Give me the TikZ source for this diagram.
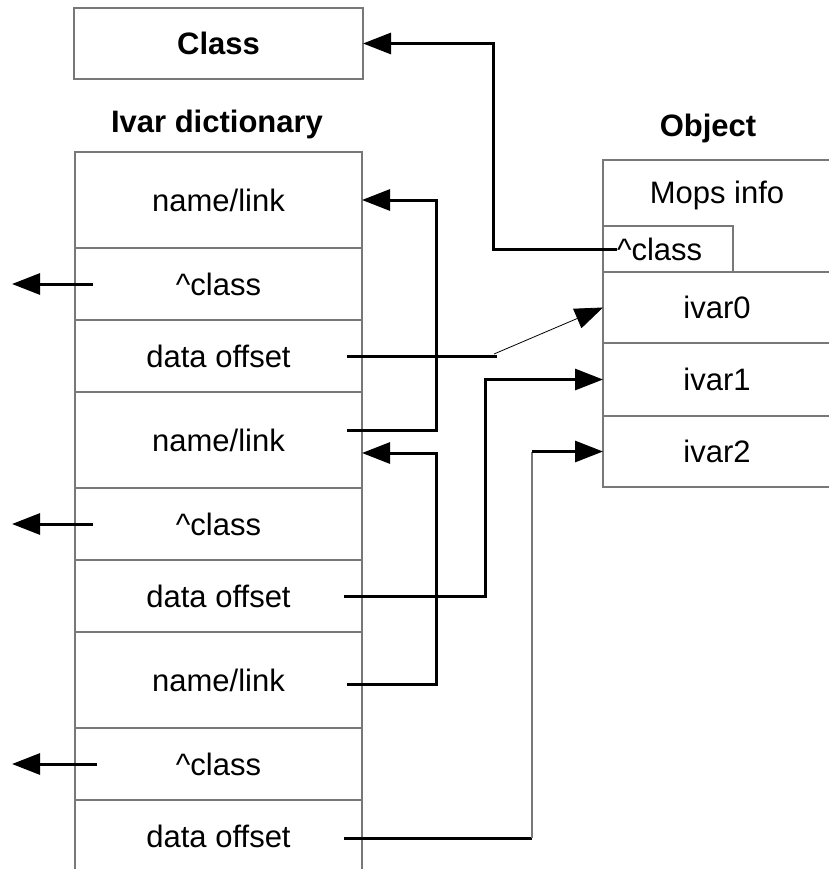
\documentclass[tikz,border=0pt]{standalone}
\usepackage{fontspec}
\setmainfont{Liberation Sans}
\usetikzlibrary{arrows.meta,positioning}
\definecolor{boxgray}{RGB}{120,120,120}

\begin{document}
\begin{tikzpicture}[x=1pt,y=-1pt,>={Triangle[length=28pt,width=21pt]},
	every node/.style={font=\fontsize{31}{36}\selectfont,outer sep=0pt},
	cell/.style={draw=boxgray,line width=1.3pt,minimum width=287pt,inner sep=0pt},
	ocell/.style={draw=boxgray,line width=1.3pt,minimum width=228pt,inner sep=0pt},
	title/.style={font=\fontsize{31}{36}\selectfont\bfseries},
	wire/.style={line width=3pt},
	link/.style={->,line width=3pt}]

\useasboundingbox (0,0) rectangle (828,869);

\node[cell,title,minimum width=289pt,minimum height=71pt,anchor=north west]	(cls) at (74,8)	{Class};
\node[title]	(ivtitle) at (217,124)	{Ivar dictionary};
\node[title]	(objtitle) at (708,128)	{Object};

% ivar dictionary
\node[cell,minimum height=96pt,anchor=north west]	(nl1) at (75,152)	{name/link};
\node[cell,minimum height=72pt]	(cl1)[below=0pt of nl1]	{\textasciicircum class};
\node[cell,minimum height=72pt]	(do1)[below=0pt of cl1]	{data offset};
\node[cell,minimum height=96pt]	(nl2)[below=0pt of do1]	{name/link};
\node[cell,minimum height=72pt]	(cl2)[below=0pt of nl2]	{\textasciicircum class};
\node[cell,minimum height=72pt]	(do2)[below=0pt of cl2]	{data offset};
\node[cell,minimum height=96pt]	(nl3)[below=0pt of do2]	{name/link};
\node[cell,minimum height=72pt]	(cl3)[below=0pt of nl3]	{\textasciicircum class};
\node[cell,minimum height=72pt]	(do3)[below=0pt of cl3]	{data offset};

% object
\node[ocell,minimum height=112pt,anchor=north west]	(mops) at (603,160)	{};
\node[anchor=base]	(mopstext) at (717,203)	{Mops info};
\node[draw=boxgray,line width=1.3pt,anchor=south west,minimum width=130pt,minimum height=46pt,
	inner xsep=14pt,inner ysep=0pt,text width=102pt,align=left]	(ocls) at (mops.south west)	{\textasciicircum class};
\node[ocell,minimum height=71pt]	(ov0)[below=0pt of mops]	{ivar0};
\node[ocell,minimum height=73pt]	(ov1)[below=0pt of ov0]	{ivar1};
\node[ocell,minimum height=71pt]	(ov2)[below=0pt of ov1]	{ivar2};

\draw[link] ([xshift=14pt]ocls.west) -- ++(-124,0) |- (cls.east);

\draw[link] ([xshift=-15pt,yshift=10pt]nl2.east) -- ++(89,0) |- (nl1.east);
\draw[link] ([xshift=-15pt,yshift=-4pt]nl3.east) -- ++(89,0) |- ([yshift=-13pt]nl2.east);

\draw[wire] ([xshift=-15pt]do1.east) -- ++(150,0) coordinate (kink0);
\draw[->,line width=0.8pt] ([xshift=-3pt,yshift=2pt]kink0) -- (ov0.west);
\draw[link] ([xshift=-18pt]do2.east) -- ++(141,0) |- (ov1.west);
\draw[wire] ([xshift=-18pt,yshift=-2pt]do3.east) -- ++(188,0) coordinate (kink2);
\draw[boxgray,line width=1.3pt] (kink2) -- (kink2 |- ov2.west);
\draw[link] (kink2 |- ov2.west) -- (ov2.west);

\draw[link] ([xshift=18pt]cl1.west) -- ++(-81,0);
\draw[link] ([xshift=18pt]cl2.west) -- ++(-81,0);
\draw[link] ([xshift=22pt]cl3.west) -- ++(-85,0);

\end{tikzpicture}
\end{document}
